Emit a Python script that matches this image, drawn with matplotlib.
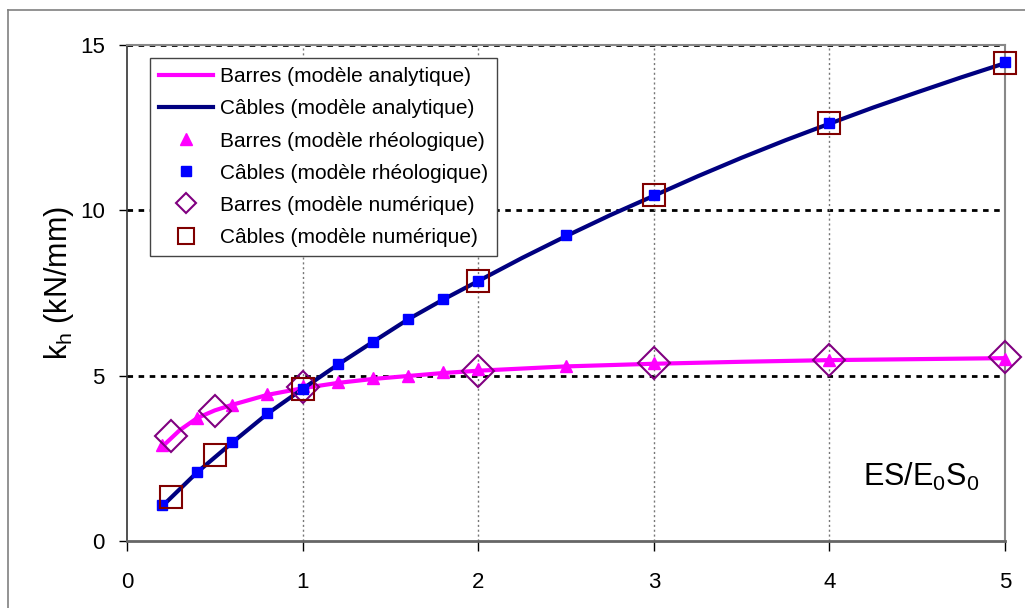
import matplotlib
matplotlib.use("Agg")
import matplotlib.pyplot as plt
from matplotlib.lines import Line2D

plt.rcParams['font.family'] = ['Liberation Sans', 'DejaVu Sans']
plt.rcParams['mathtext.fontset'] = 'custom'
plt.rcParams['mathtext.rm'] = 'Liberation Sans'

# Analytic curves
x_analytic_barres = [0.2, 0.3, 0.4, 0.5, 0.6, 0.8, 1.0, 1.2, 1.4, 1.6, 1.8, 2.0, 2.5, 3.0, 3.5, 4.0, 4.5, 5.0]
y_analytic_barres = [2.85, 3.35, 3.72, 3.95, 4.12, 4.42, 4.62, 4.78, 4.90, 4.99, 5.08, 5.15, 5.28, 5.36, 5.42, 5.47, 5.50, 5.53]
x_analytic_cables = [0.2, 0.4, 0.6, 0.8, 1.0, 1.2, 1.4, 1.6, 1.8, 2.0, 2.25, 2.5, 2.75, 3.0,
                     3.25, 3.5, 3.75, 4.0, 4.25, 4.5, 4.75, 5.0]
y_analytic_cables = [1.05, 2.08, 2.98, 3.85, 4.60, 5.33, 6.02, 6.70, 7.30, 7.86, 8.56, 9.22, 9.85, 10.44,
                     11.03, 11.59, 12.12, 12.62, 13.11, 13.57, 14.02, 14.45]

# Rheological model
x_rheo = [0.2, 0.4, 0.6, 0.8, 1.0, 1.2, 1.4, 1.6, 1.8, 2.0, 2.5, 3.0, 4.0, 5.0]
y_rheo_barres = [2.90, 3.72, 4.11, 4.45, 4.69, 4.81, 4.93, 4.99, 5.11, 5.20, 5.29, 5.38, 5.47, 5.50]
y_rheo_cables = [1.09, 2.09, 2.99, 3.87, 4.60, 5.35, 6.02, 6.71, 7.32, 7.86, 9.25, 10.46, 12.64, 14.48]

# Numerical model
x_num = [0.25, 0.5, 1.0, 2.0, 3.0, 4.0, 5.0]
y_num_barres = [3.17, 3.93, 4.66, 5.14, 5.38, 5.47, 5.56]
y_num_cables = [1.33, 2.60, 4.60, 7.86, 10.46, 12.64, 14.45]

xticks = [0, 1, 2, 3, 4, 5]
yticks = [0, 5, 10, 15]

fig = plt.figure(figsize=(10.25, 6.08), dpi=100)
ax = fig.add_axes([127/1025, 1-541/608, 878/1025, 496/608])

ax.set_xlim(0, 5)
ax.set_ylim(0, 15)

# grid
for yv in yticks[1:]:
    ax.axhline(yv, color='black', lw=2.0, ls=(0, (2.0, 2.0)), zorder=1)
for xv in xticks[1:-1]:
    ax.axvline(xv, color='#777777', lw=1.0, ls=(0, (1.5, 2.0)), zorder=1)

ax.plot(x_analytic_barres, y_analytic_barres, color='#FF00FF', lw=3.0, zorder=3)
ax.plot(x_analytic_cables, y_analytic_cables, color='#000080', lw=3.0, zorder=3)
ax.plot(x_rheo, y_rheo_barres, ls='none', marker='^', ms=9, color='#FF00FF', zorder=4, clip_on=False)
ax.plot(x_rheo, y_rheo_cables, ls='none', marker='s', ms=7, color='#0000FF', zorder=4, clip_on=False)
ax.plot(x_num, y_num_barres, ls='none', marker='D', ms=16, mfc='none', mec='#800080', mew=1.5,
        zorder=5, clip_on=False)
ax.plot(x_num, y_num_cables, ls='none', marker='s', ms=16, mfc='none', mec='#800000', mew=1.5,
        zorder=5, clip_on=False)

handles = [
    Line2D([], [], color='#FF00FF', lw=3.0),
    Line2D([], [], color='#000080', lw=3.0),
    Line2D([], [], ls='none', marker='^', ms=9, color='#FF00FF'),
    Line2D([], [], ls='none', marker='s', ms=7, color='#0000FF'),
    Line2D([], [], ls='none', marker='D', ms=10, mfc='none', mec='#800080', mew=1.5),
    Line2D([], [], ls='none', marker='s', ms=11, mfc='none', mec='#800000', mew=1.5),
]
labels = ['Barres (modèle analytique)', 'Câbles (modèle analytique)',
          'Barres (modèle rhéologique)', 'Câbles (modèle rhéologique)',
          'Barres (modèle numérique)', 'Câbles (modèle numérique)']

ax.set_xticks(xticks)
ax.set_yticks(yticks)
ax.tick_params(axis='both', labelsize=16, direction='out', color='black', width=1)
ax.tick_params(axis='y', length=6, pad=10)
ax.tick_params(axis='x', length=7, pad=15)

ax.spines['left'].set_color('#333333')
ax.spines['left'].set_linewidth(1.2)
ax.spines['bottom'].set_color('#666666')
ax.spines['bottom'].set_linewidth(2.0)
for s in ['top', 'right']:
    ax.spines[s].set_color('#888888')
    ax.spines[s].set_linewidth(1.5)

ax.set_ylabel('$\\mathregular{k_h}$ (kN/mm)', fontsize=22)
ax.yaxis.set_label_coords(-0.058, 0.52)

ax.text(0.905, 0.129, '$\\mathregular{ES/E_0S_0}$', transform=ax.transAxes,
        fontsize=22, ha='center', va='center')

leg = ax.legend(handles, labels, loc='upper left', bbox_to_anchor=(0.026, 0.974), fontsize=15,
                frameon=True, fancybox=False, edgecolor='#444444', framealpha=1,
                handlelength=2.6, labelspacing=0.63, borderpad=0.45, handletextpad=0.3,
                borderaxespad=0)
leg.get_frame().set_linewidth(1.0)

# figure border (top and left)
fig.add_artist(Line2D([8/1025, 1], [1-10/608, 1-10/608], color='#808080', lw=1.2,
                      transform=fig.transFigure))
fig.add_artist(Line2D([8/1025, 8/1025], [0, 1-10/608], color='#808080', lw=1.2,
                      transform=fig.transFigure))

fig.savefig('out.png', dpi=100)
